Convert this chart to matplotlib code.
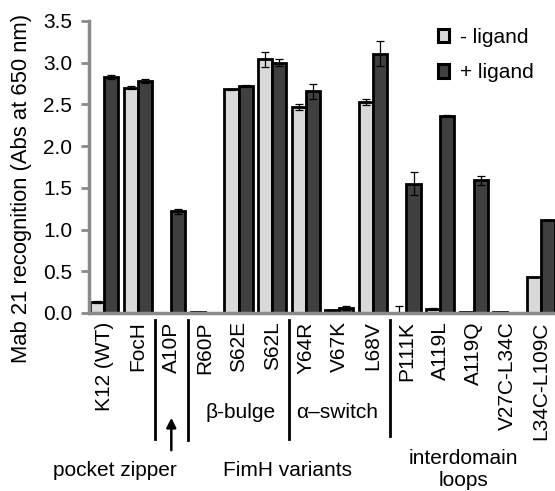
import numpy as np
import matplotlib
matplotlib.use("Agg")
import matplotlib.pyplot as plt
import matplotlib.transforms as mtransforms
from matplotlib.patches import Patch

plt.rcParams['font.family'] = ['Liberation Sans', 'DejaVu Sans']

variants = ['K12 (WT)', 'FocH', 'A10P', 'R60P', 'S62E', 'S62L', 'Y64R',
            'V67K', 'L68V', 'P111K', 'A119L', 'A119Q', 'V27C-L34C', 'L34C-L109C']
minus_ligand = [0.13, 2.70, np.nan, 0.01, 2.68, 3.04, 2.47,
                0.03, 2.53, 0.0, 0.05, 0.01, 0.01, 0.43]
plus_ligand = [2.83, 2.78, 1.22, np.nan, 2.72, 3.00, 2.66,
               0.06, 3.11, 1.55, 2.36, 1.59, np.nan, 1.11]
minus_err = [0.01, 0.02, 0.0, 0.0, 0.01, 0.09, 0.04,
             0.01, 0.04, 0.08, 0.01, 0.0, 0.0, 0.0]
plus_err = [0.02, 0.02, 0.03, 0.0, 0.01, 0.04, 0.09,
            0.02, 0.15, 0.14, 0.01, 0.05, 0.0, 0.0]

light = '#d9d9d9'
dark = '#404040'
gray = '#8a8a8a'

fig = plt.figure(figsize=(5.55, 4.91), dpi=100)
ax = fig.add_axes([89/555, 1-313/491, 1-89/555, 292/491])

x = np.arange(len(variants))
w = 0.42
ax.bar(x - w/2, minus_ligand, w, color=light, edgecolor='black', linewidth=2,
       yerr=minus_err, error_kw=dict(ecolor='black', elinewidth=0.9, capsize=3, capthick=0.9))
ax.bar(x + w/2, plus_ligand, w, color=dark, edgecolor='black', linewidth=2,
       yerr=plus_err, error_kw=dict(ecolor='black', elinewidth=0.9, capsize=3, capthick=0.9))

ax.set_xlim(-0.45, 13.42)
ax.set_ylim(0, 3.5)
ax.set_yticks(np.arange(0, 3.51, 0.5))
ax.set_yticklabels(['%.1f' % v for v in np.arange(0, 3.51, 0.5)], fontsize=15)
ax.set_xticks(x)
ax.set_xticklabels(variants, rotation=90, fontsize=15)
ax.tick_params(axis='x', length=0, pad=6)
ax.tick_params(axis='y', length=6, width=2, color=gray, direction='out', pad=6)
for s in ['top', 'right']:
    ax.spines[s].set_visible(False)
for s in ['left', 'bottom']:
    ax.spines[s].set_color(gray)
    ax.spines[s].set_linewidth(2.5)

fig.text(22/555, 1-188/491, 'Mab 21 recognition (Abs at 650 nm)', rotation=90,
         ha='center', va='center', fontsize=15.8)

handles = [Patch(facecolor=light, edgecolor='black', linewidth=2.2, label='- ligand'),
           Patch(facecolor=dark, edgecolor='black', linewidth=2.2, label='+ ligand')]
ax.legend(handles=handles, loc='upper left', bbox_to_anchor=(419/555, 1-9/491),
          bbox_transform=fig.transFigure, frameon=False, fontsize=15,
          handlelength=0.55, handleheight=0.6, handletextpad=0.5, labelspacing=0.8)

# group separators and annotations below the axis
tr = mtransforms.blended_transform_factory(ax.transData, fig.transFigure)
def fy(p):
    return 1 - p / 491

for xs, bottom in [(1.5, 439), (2.5, 440), (5.5, 439), (8.5, 436)]:
    ax.plot([xs, xs], [fy(320), fy(bottom)], color='black', lw=2,
            transform=tr, clip_on=False)

ax.annotate('', xy=(2.0, fy(415)), xytext=(2.0, fy(453)), xycoords=tr, textcoords=tr,
            arrowprops=dict(arrowstyle='-|>', color='black', lw=1.8, mutation_scale=14))

ax.text(4.05, fy(413), 'β-bulge', transform=tr, ha='center', va='center', fontsize=15)
ax.text(6.93, fy(413), 'α–switch', transform=tr, ha='center', va='center', fontsize=15)
ax.text(0.33, fy(470), 'pocket zipper', transform=tr, ha='center', va='center', fontsize=15)
ax.text(5.45, fy(471), 'FimH variants', transform=tr, ha='center', va='center', fontsize=15)
ax.text(10.7, fy(469), 'interdomain\nloops', transform=tr, ha='center', va='center',
        fontsize=15, linespacing=1.2)

fig.savefig('out.png', dpi=100)
